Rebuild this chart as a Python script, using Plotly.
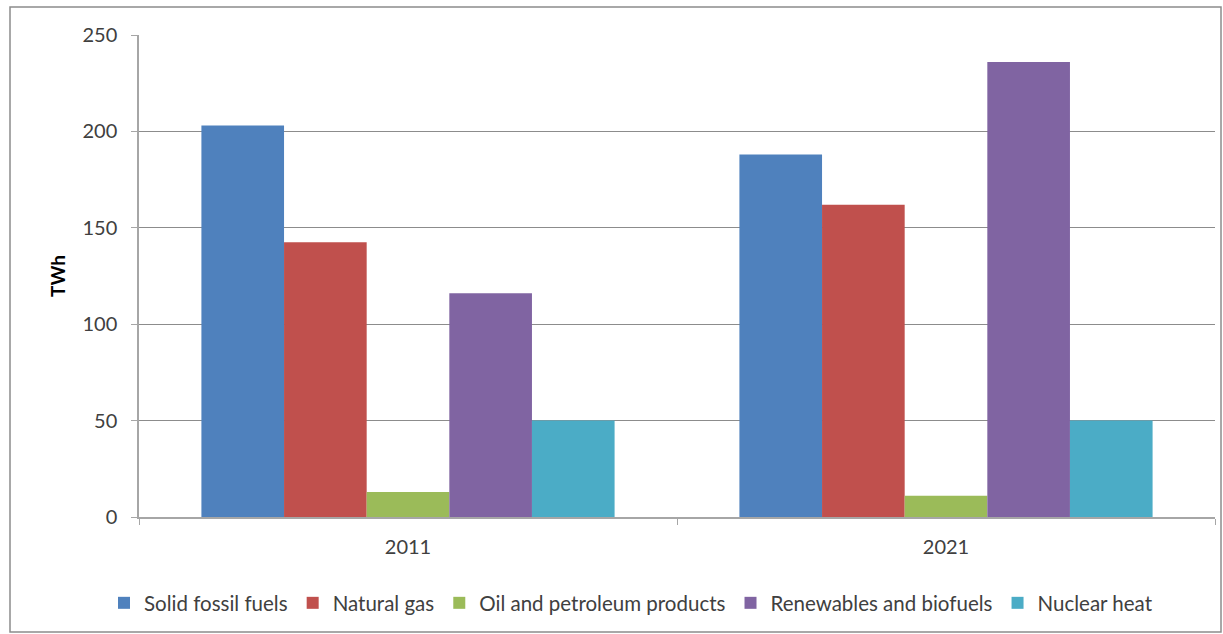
import plotly.graph_objects as go

years = ["2011", "2021"]
series_names = ["Solid fossil fuels", "Natural gas", "Oil and petroleum products",
                "Renewables and biofuels", "Nuclear heat"]
solid_fossil = [203, 188]
natural_gas = [142.5, 162]
oil_products = [13, 11]
renewables = [116, 236]
nuclear_heat = [50, 50]
y_ticks = [0, 50, 100, 150, 200, 250]

colors = ["#4F81BD", "#C0504D", "#9BBB59", "#8064A2", "#4BACC6"]
values = [solid_fossil, natural_gas, oil_products, renewables, nuclear_heat]

fig = go.Figure()
for name, vals, col in zip(series_names, values, colors):
    fig.add_trace(go.Bar(name=name, x=years, y=vals, marker=dict(color=col, line=dict(width=0))))

W, H = 1223, 634
ml, mr, mt, mb = 139, 8, 35, 117
pw, ph = W - ml - mr, H - mt - mb

def px_x(p):
    return (p - ml) / pw

def px_y(p):
    return (H - mb - p) / ph

font = "Lato, 'Open Sans', sans-serif"
fig.update_layout(
    width=W, height=H,
    margin=dict(l=ml, r=mr, t=mt, b=mb, autoexpand=False),
    paper_bgcolor="white", plot_bgcolor="white",
    barmode="group", bargap=0.232, bargroupgap=0,
    font=dict(family=font, size=20, color="#404040"),
    showlegend=True,
    legend=dict(orientation="h", x=px_x(631), xanchor="center", y=px_y(603), yanchor="middle",
                font=dict(size=20.5, color="#404040"), itemwidth=30, tracegroupgap=0),
    xaxis=dict(showline=True, linecolor="#a6a6a6", linewidth=1.5, ticks="outside",
               tickson="boundaries", ticklen=6, tickcolor="#a6a6a6", ticklabelstandoff=11,
               tickfont=dict(size=20, color="#404040"), showgrid=False),
    yaxis=dict(range=[0, 250], tickvals=y_ticks, showline=True, linecolor="#a6a6a6", linewidth=1.5,
               ticks="outside", ticklen=6, tickcolor="#a6a6a6", ticklabelstandoff=10,
               showgrid=True, gridcolor="#8c8c8c", gridwidth=1, zeroline=False,
               tickfont=dict(size=20, color="#404040"),
               title=dict(text="<b>TWh</b>", font=dict(size=19, color="#000000"), standoff=12)),
    shapes=[dict(type="rect", xref="paper", yref="paper",
                 x0=px_x(10), x1=px_x(1221), y0=px_y(632), y1=px_y(7),
                 line=dict(color="#8c8c8c", width=1.5), fillcolor="rgba(0,0,0,0)", layer="below")],
)

fig.write_html("out.html")
